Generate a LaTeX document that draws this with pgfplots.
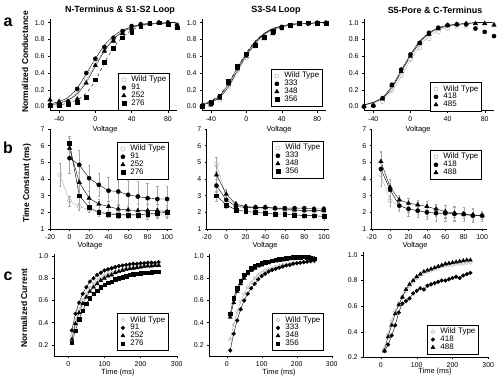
\documentclass[border=0pt]{standalone}
\usepackage{pgfplots}
\pgfplotsset{compat=1.18}
\usepackage{pgfplotstable}
\usepackage{fontspec}
\setmainfont{Liberation Sans}

% ---------- row a : conductance ----------
\pgfplotstableread{
V   wt   a    b    c    fwt  fa   fb   fc
-50 0.01 0.02 0.08 0.01 0.02 0.03 0.02 0.01
-40 0.02 0.03 0.06 0.02 0.04 0.06 0.04 0.02
-30 0.05 0.06 0.06 0.03 0.08 0.11 0.08 0.04
-20 0.16 0.21 0.09 0.05 0.17 0.22 0.15 0.08
-10 0.33 0.40 0.28 0.11 0.32 0.39 0.29 0.16
0   0.52 0.57 0.49 0.32 0.51 0.57 0.48 0.31
10  0.67 0.71 0.66 0.53 0.68 0.73 0.66 0.52
20  0.80 0.82 0.78 0.70 0.81 0.84 0.80 0.70
30  0.89 0.90 0.87 0.82 0.90 0.91 0.89 0.83
40  0.95 0.96 0.93 0.89 0.95 0.95 0.94 0.91
50  0.98 0.98 0.98 0.96 0.97 0.98 0.97 0.96
60  0.99 0.99 0.99 0.99 0.99 0.99 0.99 0.98
70  1.00 1.00 1.00 1.00 0.99 0.99 0.99 0.99
80  1.00 1.00 1.00 0.98 1.00 1.00 1.00 1.00
90  0.98 0.97 0.95 0.94 1.00 1.00 1.00 1.00
}\taa
\pgfplotstableread{
V   wt   a    b    c    fwt  fa   fb   fc
-50 0.01 0.00 0.01 0.00 0.02 0.03 0.02 0.03
-40 0.03 0.03 0.02 0.05 0.05 0.06 0.05 0.07
-30 0.08 0.12 0.10 0.13 0.11 0.13 0.11 0.14
-20 0.24 0.28 0.27 0.30 0.23 0.27 0.24 0.28
-10 0.43 0.47 0.45 0.48 0.41 0.46 0.43 0.47
0   0.58 0.62 0.60 0.63 0.59 0.63 0.61 0.64
10  0.72 0.74 0.72 0.73 0.74 0.77 0.75 0.78
20  0.82 0.83 0.81 0.83 0.85 0.87 0.86 0.87
30  0.88 0.89 0.87 0.90 0.91 0.93 0.92 0.93
40  0.93 0.95 0.94 0.95 0.95 0.96 0.95 0.96
50  0.96 0.97 0.96 0.97 0.97 0.98 0.97 0.98
60  0.98 0.99 0.98 0.99 0.98 0.99 0.99 0.99
70  0.99 0.99 0.99 1.00 0.99 0.99 0.99 0.99
80  0.99 0.99 1.00 0.99 1.00 1.00 1.00 1.00
90  0.99 0.99 1.00 0.99 1.00 1.00 1.00 1.00
}\tab
\pgfplotstableread{
V   wt   a    b    fwt  fa   fb
-50 0.00 0.00 0.00 0.02 0.02 0.02
-40 0.01 0.01 0.01 0.04 0.05 0.05
-30 0.06 0.10 0.09 0.09 0.11 0.10
-20 0.19 0.26 0.25 0.19 0.24 0.22
-10 0.37 0.44 0.42 0.36 0.43 0.41
0   0.56 0.62 0.60 0.55 0.62 0.60
10  0.70 0.76 0.75 0.72 0.78 0.76
20  0.81 0.88 0.86 0.84 0.88 0.87
30  0.89 0.94 0.93 0.91 0.94 0.93
40  0.93 0.97 0.97 0.95 0.97 0.96
50  0.96 0.98 0.98 0.97 0.98 0.98
60  0.96 0.98 0.99 0.99 0.99 0.99
70  0.97 0.93 0.99 0.99 1.00 1.00
80  0.98 0.89 0.99 1.00 1.00 1.00
90  0.98 0.84 0.97 1.00 1.00 1.00
}\tac

% ---------- row b : time constants ----------
\pgfplotstableread{
V   wt   wte  a    ae   b    be   c    ce
-10 4.25 0.70 nan  nan  nan  nan  nan  nan
0   2.70 0.30 5.25 0.90 5.85 0.60 6.15 0.40
10  2.35 0.20 4.85 0.90 3.80 0.60 3.00 0.50
20  2.15 0.15 4.05 0.80 2.85 0.40 2.30 0.30
30  2.00 0.10 3.65 0.70 2.50 0.30 2.00 0.20
40  1.95 0.10 3.30 0.80 2.35 0.30 1.90 0.20
50  1.90 0.10 3.25 0.80 2.20 0.30 1.85 0.20
60  1.85 0.10 3.05 0.90 2.15 0.30 1.85 0.20
70  1.85 0.10 2.95 0.90 2.10 0.40 1.85 0.20
80  1.85 0.10 2.85 0.90 2.10 0.40 1.90 0.30
90  1.85 0.10 2.80 0.80 2.10 0.40 1.95 0.30
100 1.85 0.10 2.80 0.80 2.05 0.40 2.00 0.30
}\tba
\pgfplotstableread{
V   wt   wte  a    ae   b    be   c    ce
-10 4.90 0.40 3.60 0.40 4.25 0.50 3.00 0.30
0   2.90 0.20 2.75 0.30 3.10 0.30 2.45 0.20
10  2.45 0.15 2.35 0.20 2.50 0.20 2.15 0.15
20  2.30 0.10 2.30 0.15 2.35 0.15 2.05 0.10
30  2.25 0.10 2.30 0.15 2.30 0.15 2.00 0.10
40  2.20 0.10 2.30 0.15 2.30 0.15 1.95 0.10
50  2.20 0.10 2.25 0.15 2.25 0.15 1.90 0.10
60  2.15 0.10 2.25 0.15 2.20 0.15 1.90 0.10
70  2.10 0.10 2.25 0.15 2.15 0.15 1.85 0.10
80  2.10 0.10 2.25 0.15 2.10 0.15 1.80 0.15
90  2.05 0.10 2.20 0.15 2.10 0.15 1.80 0.15
100 2.05 0.10 2.20 0.15 2.10 0.20 1.75 0.20
}\tbb
\pgfplotstableread{
V   wt   wte  a    ae   b    be
-10 4.25 0.70 4.60 1.00 5.05 0.60
0   2.70 0.30 3.35 0.40 3.50 0.50
10  2.40 0.20 2.40 0.30 2.75 0.30
20  2.20 0.20 2.20 0.40 2.55 0.30
30  2.10 0.20 2.10 0.40 2.45 0.30
40  2.00 0.20 2.00 0.40 2.35 0.30
50  1.95 0.20 1.95 0.50 2.20 0.30
60  1.90 0.20 1.95 0.50 2.05 0.40
70  1.90 0.20 1.90 0.40 1.95 0.40
80  1.85 0.20 1.90 0.40 1.90 0.40
90  1.80 0.20 1.80 0.40 1.85 0.40
100 1.80 0.20 1.80 0.30 1.80 0.30
}\tbc

% ---------- row c : current ----------
\pgfplotstableread{
t   wt    a     b     c
10  0.28  0.33  0.25  0.22
20  0.42  0.48  0.39  0.33
30  0.52  0.58  0.49  0.43
40  0.60  0.66  0.57  0.51
50  0.66  0.72  0.63  0.57
60  0.71  0.77  0.68  0.62
70  0.75  0.80  0.72  0.66
80  0.78  0.83  0.75  0.69
90  0.80  0.85  0.78  0.72
100 0.82  0.87  0.80  0.74
110 0.84  0.88  0.82  0.76
120 0.85  0.89  0.83  0.77
130 0.86  0.90  0.85  0.79
140 0.87  0.91  0.86  0.80
150 0.88  0.915 0.87  0.81
160 0.89  0.92  0.88  0.82
170 0.895 0.925 0.885 0.83
180 0.90  0.93  0.89  0.835
190 0.905 0.93  0.895 0.84
200 0.91  0.935 0.90  0.845
210 0.91  0.935 0.905 0.85
220 0.915 0.94  0.91  0.85
230 0.915 0.94  0.91  0.855
240 0.92  0.94  0.915 0.86
250 0.92  0.945 0.915 0.86
}\tca
\pgfplotstableread{
t   wt    a     b     c
10  0.25  0.15  0.45  0.48
20  0.38  0.30  0.58  0.62
30  0.50  0.42  0.68  0.71
40  0.59  0.52  0.75  0.78
50  0.66  0.60  0.80  0.83
60  0.72  0.66  0.84  0.86
70  0.76  0.71  0.87  0.89
80  0.80  0.75  0.89  0.91
90  0.83  0.79  0.91  0.92
100 0.85  0.82  0.92  0.935
110 0.87  0.84  0.93  0.945
120 0.88  0.86  0.94  0.95
130 0.89  0.875 0.95  0.96
140 0.90  0.885 0.955 0.965
150 0.91  0.895 0.96  0.97
160 0.92  0.905 0.965 0.975
170 0.925 0.915 0.97  0.98
180 0.93  0.92  0.975 0.985
190 0.935 0.93  0.975 0.99
200 0.94  0.935 0.98  0.99
210 0.94  0.94  0.98  0.99
220 0.945 0.945 0.985 0.995
230 0.945 0.95  0.985 0.99
240 0.95  0.955 0.985 0.98
250 0.95  0.96  0.98  0.975
}\tcb
\pgfplotstableread{
t   wt    a     b
10  0.27  0.25  0.25
20  0.38  0.30  0.36
30  0.48  0.37  0.45
40  0.56  0.45  0.54
50  0.62  0.55  0.61
60  0.67  0.62  0.67
70  0.72  0.64  0.73
80  0.76  0.66  0.77
90  0.79  0.70  0.80
100 0.82  0.72  0.83
110 0.84  0.74  0.85
120 0.86  0.73  0.87
130 0.87  0.76  0.88
140 0.88  0.77  0.89
150 0.89  0.78  0.90
160 0.90  0.79  0.91
170 0.91  0.80  0.92
180 0.915 0.80  0.93
190 0.92  0.81  0.935
200 0.925 0.82  0.94
210 0.93  0.83  0.945
220 0.935 0.82  0.95
230 0.935 0.84  0.955
240 0.94  0.85  0.96
250 0.94  0.86  0.96
}\tcc

\pgfplotsset{
  panel/.style={scale only axis, axis lines*=left, clip=false,
    tick align=outside, major tick length=2pt,
    tick style={black, line width=0.4pt},
    axis line style={black, line width=0.5pt},
    ticklabel style={font=\fontsize{7}{7}\selectfont},
    /pgf/number format/assume math mode=true,
    legend cell align=left,
    legend style={draw=black, line width=0.4pt, anchor=north west,
      font=\fontsize{8}{8}\selectfont, inner sep=1.5pt, row sep=-2.2pt,
      nodes={inner sep=1.5pt}},
    legend image code/.code={\path[draw=none, fill=none] (0cm,-0.08cm) rectangle (0.36cm,0.08cm);
      \draw[#1] plot coordinates {(0.15cm,0cm)};},
  },
  dec1/.style={yticklabel style={/pgf/number format/.cd, fixed, fixed zerofill, precision=1}},
  wtm/.style={only marks, mark=o, mark size=2.1pt, draw=gray!55, mark options={fill=white, line width=0.5pt}},
  m1/.style={only marks, mark=*, mark size=2.1pt, black},
  m2/.style={only marks, mark=triangle*, mark size=2.5pt, black},
  m3/.style={only marks, mark=square*, mark size=1.9pt, black},
  wtl/.style={no marks, gray!60, line width=0.4pt, forget plot},
  bl/.style={no marks, black, line width=0.4pt, forget plot},
  eb/.style={error bars/.cd, y dir=both, y explicit,
    error bar style={gray!70, line width=0.3pt},
    error mark options={rotate=90, mark size=1.2pt, gray!70, line width=0.3pt}},
}

\begin{document}
\begin{tikzpicture}
\useasboundingbox (0,0) rectangle (500bp,-380bp);

% ===== Row a =====
\begin{axis}[panel, dec1, at={(50bp,-110.7bp)}, anchor=south west, width=127bp, height=92.2bp,
  xmin=-50, xmax=90, ymin=-0.05, ymax=1.05, xtick={-40,0,40,80}, ytick={0,0.2,0.4,0.6,0.8,1.0},
  legend style={at={(0.535,0.409)}}]
\addplot[wtl, smooth] table[x=V,y=fwt]{\taa};
\addplot[bl, smooth] table[x=V,y=fa]{\taa};
\addplot[bl, smooth] table[x=V,y=fb]{\taa};
\addplot[bl, smooth, dashed] table[x=V,y=fc]{\taa};
\addplot[wtm] table[x=V,y=wt]{\taa}; \addlegendentry{Wild Type}
\addplot[m1] table[x=V,y=a]{\taa}; \addlegendentry{91}
\addplot[m2] table[x=V,y=b]{\taa}; \addlegendentry{252}
\addplot[m3] table[x=V,y=c]{\taa}; \addlegendentry{276}
\end{axis}

\begin{axis}[panel, dec1, at={(202bp,-110.7bp)}, anchor=south west, width=124bp, height=92.2bp,
  xmin=-50, xmax=90, ymin=-0.05, ymax=1.05, xtick={-40,0,40,80}, ytick={0,0.2,0.4,0.6,0.8,1.0},
  legend style={at={(0.556,0.452)}}]
\addplot[wtl, smooth] table[x=V,y=fwt]{\tab};
\addplot[bl, smooth] table[x=V,y=fa]{\tab};
\addplot[bl, smooth] table[x=V,y=fb]{\tab};
\addplot[bl, smooth, dashed] table[x=V,y=fc]{\tab};
\addplot[wtm] table[x=V,y=wt]{\tab}; \addlegendentry{Wild Type}
\addplot[m1] table[x=V,y=a]{\tab}; \addlegendentry{333}
\addplot[m2] table[x=V,y=b]{\tab}; \addlegendentry{348}
\addplot[m3] table[x=V,y=c]{\tab}; \addlegendentry{356}
\end{axis}

\begin{axis}[panel, dec1, at={(364bp,-110.7bp)}, anchor=south west, width=130bp, height=92.2bp,
  xmin=-50, xmax=90, ymin=-0.05, ymax=1.05, xtick={-40,0,40,80}, ytick={0,0.2,0.4,0.6,0.8,1.0},
  legend style={at={(0.508,0.31)}}]
\addplot[wtl, smooth] table[x=V,y=fwt]{\tac};
\addplot[bl, smooth] table[x=V,y=fa]{\tac};
\addplot[bl, smooth] table[x=V,y=fb]{\tac};
\addplot[wtm] table[x=V,y=wt]{\tac}; \addlegendentry{Wild Type}
\addplot[m1] table[x=V,y=a]{\tac}; \addlegendentry{418}
\addplot[m2] table[x=V,y=b]{\tac}; \addlegendentry{485}
\end{axis}

% ===== Row b =====
\begin{axis}[panel, at={(50bp,-229bp)}, anchor=south west, width=122bp, height=100bp,
  xmin=-20, xmax=105, ymin=1, ymax=7, xtick={-20,0,...,100}, ytick={1,...,7},
  legend style={at={(0.549,0.87)}}]
\addplot[wtl] table[x=V,y=wt]{\tba};
\addplot[bl] table[x=V,y=a]{\tba};
\addplot[bl] table[x=V,y=b]{\tba};
\addplot[bl] table[x=V,y=c]{\tba};
\addplot[wtm, eb] table[x=V,y=wt,y error=wte]{\tba}; \addlegendentry{Wild Type}
\addplot[m1, eb] table[x=V,y=a,y error=ae]{\tba}; \addlegendentry{91}
\addplot[m2, eb] table[x=V,y=b,y error=be]{\tba}; \addlegendentry{252}
\addplot[m3, eb] table[x=V,y=c,y error=ce]{\tba}; \addlegendentry{276}
\end{axis}

\begin{axis}[panel, at={(206.7bp,-229bp)}, anchor=south west, width=122bp, height=100bp,
  xmin=-20, xmax=105, ymin=1, ymax=7, xtick={-20,0,...,100}, ytick={1,...,7},
  legend style={at={(0.535,0.88)}}]
\addplot[wtl] table[x=V,y=wt]{\tbb};
\addplot[bl] table[x=V,y=a]{\tbb};
\addplot[bl] table[x=V,y=b]{\tbb};
\addplot[bl] table[x=V,y=c]{\tbb};
\addplot[wtm, eb] table[x=V,y=wt,y error=wte]{\tbb}; \addlegendentry{Wild Type}
\addplot[m1, eb] table[x=V,y=a,y error=ae]{\tbb}; \addlegendentry{333}
\addplot[m2, eb] table[x=V,y=b,y error=be]{\tbb}; \addlegendentry{348}
\addplot[m3, eb] table[x=V,y=c,y error=ce]{\tbb}; \addlegendentry{356}
\end{axis}

\begin{axis}[panel, at={(371.7bp,-229bp)}, anchor=south west, width=115bp, height=100bp,
  xmin=-20, xmax=105, ymin=1, ymax=7, xtick={-20,0,...,100}, ytick={1,...,7},
  legend style={at={(0.507,0.79)}}]
\addplot[wtl] table[x=V,y=wt]{\tbc};
\addplot[bl] table[x=V,y=a]{\tbc};
\addplot[bl] table[x=V,y=b]{\tbc};
\addplot[wtm, eb] table[x=V,y=wt,y error=wte]{\tbc}; \addlegendentry{Wild Type}
\addplot[m1, eb] table[x=V,y=a,y error=ae]{\tbc}; \addlegendentry{418}
\addplot[m2, eb] table[x=V,y=b,y error=be]{\tbc}; \addlegendentry{488}
\end{axis}

% ===== Row c =====
\begin{axis}[panel, dec1, at={(53.8bp,-356bp)}, anchor=south west, width=122.9bp, height=102.2bp,
  xmin=-40, xmax=300, ymin=0.1, ymax=1.02, xtick={0,100,200,300}, ytick={0.2,0.4,0.6,0.8,1.0},
  legend style={at={(0.514,0.42)}}]
\addplot[wtl, smooth] table[x=t,y=wt]{\tca};
\addplot[bl, smooth] table[x=t,y=a]{\tca};
\addplot[bl, smooth] table[x=t,y=b]{\tca};
\addplot[bl, smooth] table[x=t,y=c]{\tca};
\addplot[wtm, mark size=1.9pt] table[x=t,y=wt]{\tca}; \addlegendentry{Wild Type}
\addplot[m1, mark size=1.9pt] table[x=t,y=a]{\tca}; \addlegendentry{91}
\addplot[m2, mark size=2.3pt] table[x=t,y=b]{\tca}; \addlegendentry{252}
\addplot[m3, mark size=1.7pt] table[x=t,y=c]{\tca}; \addlegendentry{276}
\end{axis}

\begin{axis}[panel, dec1, at={(209.2bp,-356bp)}, anchor=south west, width=122.5bp, height=102.2bp,
  xmin=-50, xmax=300, ymin=0.1, ymax=1.02, xtick={0,100,200,300}, ytick={0.2,0.4,0.6,0.8,1.0},
  legend style={at={(0.513,0.42)}}]
\addplot[wtl, smooth] table[x=t,y=wt]{\tcb};
\addplot[bl, smooth] table[x=t,y=a]{\tcb};
\addplot[bl, smooth] table[x=t,y=b]{\tcb};
\addplot[bl, smooth] table[x=t,y=c]{\tcb};
\addplot[wtm, mark size=1.9pt] table[x=t,y=wt]{\tcb}; \addlegendentry{Wild Type}
\addplot[m1, mark size=1.9pt] table[x=t,y=a]{\tcb}; \addlegendentry{333}
\addplot[m2, mark size=2.3pt] table[x=t,y=b]{\tcb}; \addlegendentry{348}
\addplot[m3, mark size=1.7pt] table[x=t,y=c]{\tcb}; \addlegendentry{356}
\end{axis}

\begin{axis}[panel, dec1, at={(363bp,-357.3bp)}, anchor=south west, width=125.3bp, height=104.9bp,
  xmin=-50, xmax=300, ymin=0.2, ymax=1.02, xtick={0,100,200,300}, ytick={0.2,0.4,0.6,0.8,1.0},
  legend style={at={(0.511,0.31)}}]
\addplot[wtl, smooth] table[x=t,y=wt]{\tcc};
\addplot[bl, smooth] table[x=t,y=a]{\tcc};
\addplot[bl, smooth] table[x=t,y=b]{\tcc};
\addplot[wtm, mark size=1.9pt] table[x=t,y=wt]{\tcc}; \addlegendentry{Wild Type}
\addplot[m1, mark size=1.9pt] table[x=t,y=a]{\tcc}; \addlegendentry{418}
\addplot[m2, mark size=2.3pt] table[x=t,y=b]{\tcc}; \addlegendentry{488}
\end{axis}

% ===== Text =====
\begin{scope}[every node/.style={inner sep=0pt}]
\node[font=\bfseries\fontsize{9}{9}\selectfont] at (120bp,-10bp) {N-Terminus \& S1-S2 Loop};
\node[font=\bfseries\fontsize{9}{9}\selectfont] at (276bp,-10bp) {S3-S4 Loop};
\node[font=\bfseries\fontsize{9}{9}\selectfont] at (435bp,-10bp) {S5-Pore \& C-Terminus};
\node[rotate=90, font=\bfseries\fontsize{8.5}{8.5}\selectfont] at (25bp,-62bp) {Normalized Conductance};
\node[rotate=90, font=\bfseries\fontsize{8.5}{8.5}\selectfont] at (27bp,-183bp) {Time Constant (ms)};
\node[rotate=90, font=\bfseries\fontsize{8.5}{8.5}\selectfont] at (24bp,-308bp) {Normalized Current};
\node[font=\bfseries\fontsize{16}{16}\selectfont] at (8bp,-22bp) {a};
\node[font=\bfseries\fontsize{16}{16}\selectfont] at (8bp,-148bp) {b};
\node[font=\bfseries\fontsize{16}{16}\selectfont] at (8bp,-276bp) {c};
\node[font=\fontsize{7.5}{7.5}\selectfont] at (105bp,-130bp) {Voltage};
\node[font=\fontsize{7.5}{7.5}\selectfont] at (279bp,-130bp) {Voltage};
\node[font=\fontsize{7.5}{7.5}\selectfont] at (418bp,-130bp) {Voltage};
\node[font=\fontsize{7.5}{7.5}\selectfont] at (90bp,-246bp) {Voltage};
\node[font=\fontsize{7.5}{7.5}\selectfont] at (265bp,-246bp) {Voltage};
\node[font=\fontsize{7.5}{7.5}\selectfont] at (415bp,-246bp) {Voltage};
\node[font=\fontsize{7.5}{7.5}\selectfont] at (118bp,-373bp) {Time (ms)};
\node[font=\fontsize{7.5}{7.5}\selectfont] at (279bp,-373bp) {Time (ms)};
\node[font=\fontsize{7.5}{7.5}\selectfont] at (435bp,-372bp) {Time (ms)};
\end{scope}
\end{tikzpicture}
\end{document}
